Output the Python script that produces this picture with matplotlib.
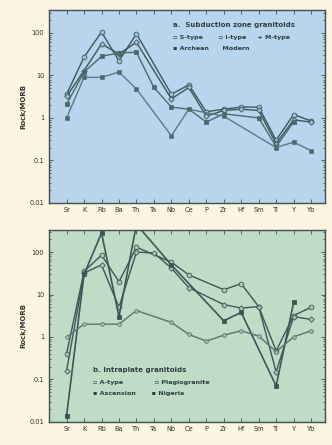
import numpy as np
import matplotlib
matplotlib.use("Agg")
import matplotlib.pyplot as plt
from matplotlib.ticker import FixedLocator, FixedFormatter, LogLocator, NullFormatter

elements = ["Sr", "K", "Rb", "Ba", "Th", "Ta", "Nb", "Ce", "P", "Zr", "Hf", "Sm", "Ti", "Y", "Yb"]
nan = np.nan

# a. subduction zone granitoids (Rock/MORB)
s_type = [3.6, 27, 105, 22, 95, nan, 3.6, 6.0, 1.4, 1.6, 1.8, 1.8, 0.3, 1.2, 0.85]
i_archean = [3.2, 13, 55, 32, 60, nan, 2.8, 5.2, 1.1, 1.5, 1.6, 1.5, 0.25, 0.9, 0.8]
i_modern = [2.1, 12, 28, 34, 35, 5.2, 1.8, 1.6, 0.8, 1.25, nan, 1.0, 0.21, 0.8, nan]
m_type = [1.0, 9, 9, 12, 4.8, nan, 0.38, 1.6, nan, 1.1, nan, nan, 0.2, 0.27, 0.17]

# b. intraplate granitoids (Rock/MORB)
a_type = [0.4, 35, 85, 20, 130, nan, 58, 29, nan, 13, 18, 5.2, 0.47, 3.2, 5.0]
ascension = [0.16, 32, 50, 5, 100, 95, 42, 14.5, nan, 5.8, 4.8, 5.2, 0.15, 3.0, 2.6]
nigeria = [0.014, 30, 280, 3, 450, nan, 50, nan, nan, 2.4, 3.8, nan, 0.07, 6.5, nan]
plagio = [1.0, 2.0, 2.0, 2.0, 4.2, nan, 2.2, 1.15, 0.8, 1.1, 1.4, 1.05, 0.45, 1.0, 1.4]

line_col = "#3f5656"
x = np.arange(len(elements))

fig = plt.figure(figsize=(3.32, 4.45), dpi=100)
fig.patch.set_facecolor("#fdf4e2")
ax1 = fig.add_axes([0.148, 0.544, 0.831, 0.434])
ax2 = fig.add_axes([0.148, 0.052, 0.831, 0.431])


def plot_series(ax, vals, marker, mfc, lw=1.0, ms=3.4, col=line_col):
    v = np.array(vals, dtype=float)
    m = np.isfinite(v)
    ax.plot(x[m], v[m], color=col, lw=lw, marker=marker, ms=ms,
            mfc=mfc, mec=col, mew=0.6)


def style(ax, face):
    ax.set_facecolor(face)
    ax.set_yscale("log")
    ax.set_xlim(-1, 14.8)
    ax.yaxis.set_major_locator(FixedLocator([0.01, 0.1, 1, 10, 100]))
    ax.yaxis.set_major_formatter(FixedFormatter(["0.01", "0.1", "1", "10", "100"]))
    ax.yaxis.set_minor_locator(LogLocator(base=10, subs=np.arange(2, 10)))
    ax.yaxis.set_minor_formatter(NullFormatter())
    ax.set_xticks(x)
    ax.set_xticklabels(elements, fontsize=4.8, color="#333333")
    ax.tick_params(axis="y", labelsize=4.8, labelcolor="#333333")
    ax.tick_params(which="both", direction="in", top=True, right=True,
                   color="#3f5050", width=0.6)
    ax.tick_params(which="major", length=3)
    ax.tick_params(which="minor", length=1.5)
    ax.tick_params(axis="x", pad=3)
    for sp in ax.spines.values():
        sp.set_color("#3f5050")
        sp.set_linewidth(1.0)
    ax.set_ylabel("Rock/MORB", fontsize=5, fontweight="bold", color="#333333", labelpad=2)


# top panel
style(ax1, "#b9d5ee")
ax1.set_ylim(0.01, 350)
plot_series(ax1, s_type, "o", "#9fc0dc")
plot_series(ax1, i_archean, "D", "#9fc0dc", ms=2.8)
plot_series(ax1, i_modern, "s", "#4a6a6a", ms=3.0, col="#4d6a6e")
plot_series(ax1, m_type, "s", "#4a6a6a", ms=3.0, col="#5a7a82")

fs = 4.6
ax1.text(0.45, 0.91, "a.  Subduction zone granitoids", transform=ax1.transAxes,
         fontsize=5, fontweight="bold", color="#2f3f3f")
ax1.text(0.45, 0.85, "\u25ab S-type       \u25ab I-type     + M-type", transform=ax1.transAxes,
         fontsize=fs, fontweight="bold", color="#2f3f3f")
ax1.text(0.45, 0.79, "\u25aa Archean      Modern", transform=ax1.transAxes,
         fontsize=fs, fontweight="bold", color="#2f3f3f")

# bottom panel
style(ax2, "#bfdcc7")
ax2.set_ylim(0.01, 330)
plot_series(ax2, a_type, "o", "#a6c9b0")
plot_series(ax2, ascension, "D", "#a6c9b0", ms=2.8)
plot_series(ax2, nigeria, "s", "#3c5450", ms=3.2, lw=1.2)
plot_series(ax2, plagio, "o", "#a6c9b0", ms=2.6, col="#587472")

ax2.text(0.16, 0.26, "b. Intraplate granitoids", transform=ax2.transAxes,
         fontsize=5, fontweight="bold", color="#2f3f3f")
ax2.text(0.16, 0.20, "\u25ab A-type              \u25ab Plagiogranite", transform=ax2.transAxes,
         fontsize=fs, fontweight="bold", color="#2f3f3f")
ax2.text(0.16, 0.14, "\u25aa Ascension       \u25aa Nigeria", transform=ax2.transAxes,
         fontsize=fs, fontweight="bold", color="#2f3f3f")

fig.savefig("out.png", dpi=100, facecolor=fig.get_facecolor())
